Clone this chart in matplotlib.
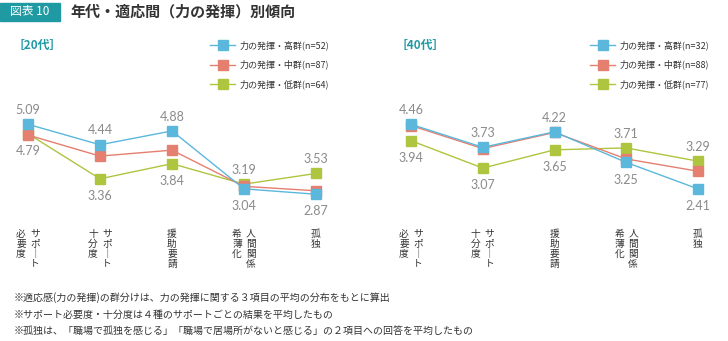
import matplotlib
matplotlib.use("Agg")
import matplotlib.pyplot as plt
from matplotlib.patches import Rectangle

plt.rcParams['font.family'] = ['Noto Sans CJK JP', 'DejaVu Sans']

# categories: each is a list of vertical columns, right to left
categories = [
    ["サポ｜ト", "必要度"],
    ["サポ｜ト", "十分度"],
    ["援助要請"],
    ["人間関係", "希薄化"],
    ["孤独"],
]

panel_titles = ["［20代］", "［40代］"]

legend_20 = ["力の発揮・高群(n=52)", "力の発揮・中群(n=87)", "力の発揮・低群(n=64)"]
legend_40 = ["力の発揮・高群(n=32)", "力の発揮・中群(n=88)", "力の発揮・低群(n=77)"]

high_20 = [5.09, 4.44, 4.88, 3.04, 2.87]
mid_20 = [4.75, 4.08, 4.27, 3.12, 2.98]
low_20 = [4.79, 3.36, 3.84, 3.19, 3.53]

high_40 = [4.46, 3.73, 4.22, 3.25, 2.41]
mid_40 = [4.42, 3.69, 4.20, 3.36, 2.97]
low_40 = [3.94, 3.07, 3.65, 3.71, 3.29]

footnotes = [
    "※適応感(力の発揮)の群分けは、力の発揮に関する３項目の平均の分布をもとに算出",
    "※サポート必要度・十分度は４種のサポートごとの結果を平均したもの",
    "※孤独は、「職場で孤独を感じる」「職場で居場所がないと感じる」の２項目への回答を平均したもの",
]

COLORS = ["#5bb7dc", "#e57f6f", "#aec53f"]
TEAL = "#1f9aa3"
GRAY = "#8a8a8a"

W, H = 728, 341
fig = plt.figure(figsize=(W / 100, H / 100), dpi=100)


def px_axes(x0, x1, y0, y1):
    """Axes placed by pixel box (y measured from top)."""
    return fig.add_axes([x0 / W, 1 - y1 / H, (x1 - x0) / W, (y1 - y0) / H])


# header
fig.patches.append(Rectangle((0, 1 - 21 / H), 60 / W, 18 / H, transform=fig.transFigure,
                             color=TEAL, zorder=0))
fig.text(30 / W, 1 - 12 / H, "図表 10", color="white", fontsize=8.5, ha="center", va="center")
fig.text(70 / W, 1 - 12 / H, "年代・適応間（力の発揮）別傾向", fontsize=10.8, fontweight="bold",
         color="#333333", ha="left", va="center")


def draw_panel(x0, x1, top_val, series, labels, title, title_x, legend_x):
    ax = px_axes(x0, x1, 110, 205)
    ax.set_xlim(0, 4)
    ax.set_ylim(top_val - 95 / 31.5, top_val)
    ax.axis("off")
    xs = range(len(categories))
    # low drawn first, high on top
    for z, (vals, c, lab) in enumerate(zip(series, COLORS, labels)):
        ax.plot(xs, vals, color=c, lw=1.0, marker="s", markersize=6.5, clip_on=False,
                label=lab, zorder=5 - z)
    high, mid, low = series
    for i in xs:
        top, bot = (high[i], low[i]) if high[i] >= low[i] else (low[i], high[i])
        ax.annotate(f"{top:.2f}", (i, top), xytext=(0, 6), textcoords="offset points",
                    ha="center", va="bottom", fontsize=9, color=GRAY, family="Lato")
        ax.annotate(f"{bot:.2f}", (i, bot), xytext=(0, -8), textcoords="offset points",
                    ha="center", va="top", fontsize=9, color=GRAY, family="Lato")
    # vertical category labels
    for i, cols in enumerate(categories):
        n = len(cols)
        for j, col in enumerate(cols):
            dx = ((n - 1) / 2 - j) * 10
            ax.annotate("\n".join(col), (i, 0), xycoords=("data", "axes fraction"),
                        xytext=(dx, -17), textcoords="offset points",
                        ha="center", va="top", fontsize=7, linespacing=1.0,
                        color="#333333")
    fig.text(title_x / W, 1 - 45 / H, title, color=TEAL, fontsize=8.5, fontweight="bold",
             ha="left", va="center")
    for k, (lab, c) in enumerate(zip(labels, COLORS)):
        yy = 1 - (45 + k * 19.5) / H
        fig.add_artist(plt.Line2D([legend_x / W, (legend_x + 25) / W], [yy, yy],
                                  color=c, lw=1.0, transform=fig.transFigure))
        fig.add_artist(plt.Line2D([(legend_x + 12.5) / W], [yy], color=c, marker="s",
                                  markersize=7, transform=fig.transFigure))
        fig.text((legend_x + 30) / W, yy, lab, fontsize=6.5, color="#333333",
                 ha="left", va="center")


draw_panel(28, 316, 5.09 + 14.3 / 31.5, [high_20, mid_20, low_20], legend_20,
           panel_titles[0], 13, 210)
draw_panel(411, 698, 4.46 + 14.3 / 31.5, [high_40, mid_40, low_40], legend_40,
           panel_titles[1], 396, 590)

for k, note in enumerate(footnotes):
    fig.text(14 / W, 1 - (298 + k * 16.5) / H, note, fontsize=7.2, color="#333333",
             ha="left", va="center")

fig.savefig("out.png", dpi=100)
